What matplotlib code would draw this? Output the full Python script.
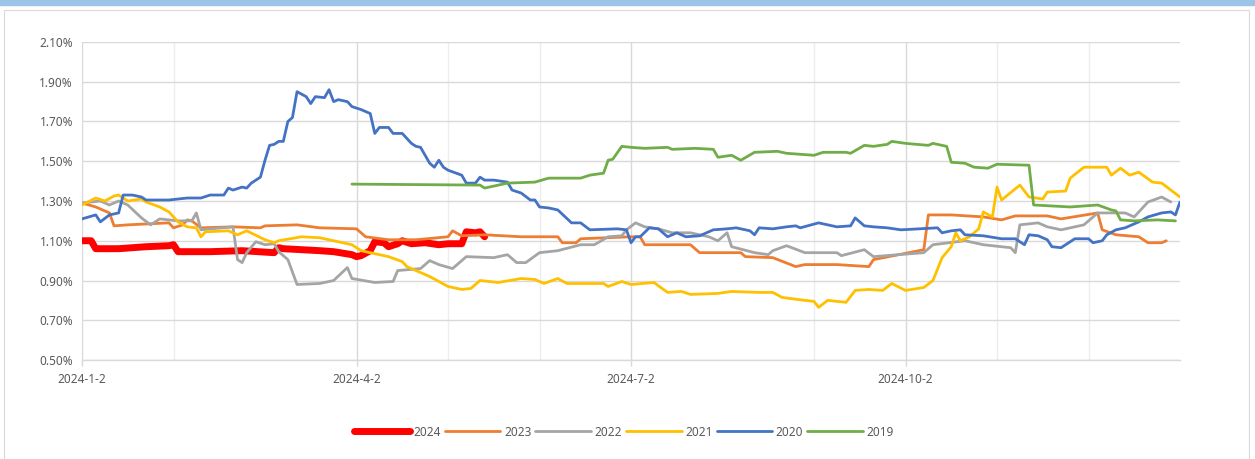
import matplotlib
matplotlib.use("Agg")
import matplotlib.pyplot as plt
from matplotlib.patches import Rectangle
from matplotlib.ticker import FuncFormatter, FixedLocator

# trading-day index (0 = 2024-1-2) and rate values in %
s2024_day = [0, 2, 3, 8, 14, 19, 20, 21, 28, 35, 42, 43, 44, 48, 52, 55, 59, 60, 61, 63, 64,
             66, 67, 69, 70, 72, 75, 78, 80, 83, 84, 86, 87, 88]
s2024_val = [1.10, 1.10, 1.06, 1.06, 1.07, 1.075, 1.08, 1.045, 1.045, 1.05, 1.04, 1.065, 1.06,
             1.055, 1.05, 1.045, 1.03, 1.02, 1.025, 1.05, 1.095, 1.09, 1.07, 1.085, 1.10, 1.085,
             1.09, 1.08, 1.085, 1.085, 1.145, 1.14, 1.145, 1.12]

s2023_day = [0, 3, 6, 7, 10, 19, 20, 22, 23, 24, 26, 33, 39, 40, 47, 52, 60, 62, 67, 73, 80,
             81, 83, 88, 96, 104, 105, 108, 109, 120, 122, 123, 133, 135, 144, 145, 151, 156,
             158, 165, 172, 173, 184, 185, 190, 197, 201, 204, 211, 214, 222, 223, 226, 231,
             233, 236, 237]
s2023_val = [1.29, 1.27, 1.24, 1.175, 1.18, 1.19, 1.165, 1.18, 1.205, 1.20, 1.165, 1.17, 1.165,
             1.175, 1.18, 1.165, 1.16, 1.12, 1.105, 1.105, 1.12, 1.15, 1.125, 1.13, 1.12, 1.12,
             1.09, 1.09, 1.11, 1.12, 1.12, 1.08, 1.08, 1.04, 1.04, 1.02, 1.015, 0.97, 0.98,
             0.98, 0.97, 1.005, 1.055, 1.23, 1.23, 1.22, 1.205, 1.225, 1.225, 1.21, 1.24,
             1.155, 1.13, 1.12, 1.09, 1.09, 1.10]

s2022_day = [0, 4, 6, 8, 10, 13, 15, 17, 21, 24, 25, 26, 33, 34, 35, 36, 38, 40, 42, 43, 45,
             47, 52, 55, 58, 59, 64, 68, 69, 74, 76, 78, 81, 84, 90, 93, 95, 97, 100, 104, 109,
             112, 115, 118, 119, 121, 123, 126, 129, 133, 137, 139, 141, 142, 147, 150, 151,
             154, 158, 165, 166, 171, 173, 184, 186, 193, 197, 203, 204, 205, 209, 211, 214,
             219, 222, 228, 230, 233, 236, 238]
s2022_val = [1.29, 1.30, 1.28, 1.30, 1.28, 1.215, 1.18, 1.21, 1.20, 1.20, 1.24, 1.155, 1.17,
             1.005, 0.99, 1.04, 1.095, 1.08, 1.085, 1.045, 1.005, 0.88, 0.885, 0.90, 0.965,
             0.91, 0.89, 0.895, 0.95, 0.96, 1.00, 0.98, 0.96, 1.02, 1.015, 1.03, 0.99, 0.99,
             1.04, 1.05, 1.08, 1.08, 1.12, 1.125, 1.155, 1.19, 1.17, 1.16, 1.14, 1.14, 1.12,
             1.10, 1.14, 1.07, 1.04, 1.03, 1.05, 1.075, 1.04, 1.04, 1.025, 1.055, 1.02, 1.04,
             1.08, 1.10, 1.08, 1.065, 1.04, 1.18, 1.19, 1.17, 1.155, 1.18, 1.24, 1.24, 1.22,
             1.295, 1.32, 1.295]

s2021_day = [0, 3, 5, 7, 8, 10, 13, 14, 17, 19, 21, 23, 25, 26, 27, 32, 34, 36, 40, 42, 43,
             48, 52, 56, 59, 61, 67, 70, 71, 74, 76, 80, 83, 85, 87, 91, 96, 99, 101, 104, 106,
             114, 115, 118, 120, 125, 128, 131, 133, 139, 142, 148, 151, 153, 158, 160, 161,
             163, 167, 169, 172, 175, 177, 180, 184, 186, 188, 190, 191, 192, 194, 196, 197,
             199, 200, 201, 205, 207, 210, 211, 215, 216, 219, 224, 225, 227, 229, 231, 234,
             236, 238, 240]
s2021_val = [1.28, 1.315, 1.30, 1.325, 1.33, 1.30, 1.31, 1.295, 1.27, 1.245, 1.195, 1.17,
             1.165, 1.12, 1.145, 1.15, 1.13, 1.15, 1.105, 1.09, 1.10, 1.12, 1.115, 1.095, 1.08,
             1.05, 1.02, 0.995, 0.97, 0.94, 0.92, 0.87, 0.855, 0.86, 0.90, 0.89, 0.91, 0.905,
             0.885, 0.91, 0.885, 0.885, 0.87, 0.895, 0.88, 0.89, 0.84, 0.845, 0.83, 0.835,
             0.845, 0.84, 0.84, 0.815, 0.80, 0.795, 0.765, 0.80, 0.79, 0.85, 0.855, 0.85,
             0.885, 0.85, 0.865, 0.90, 1.015, 1.07, 1.14, 1.10, 1.12, 1.16, 1.245, 1.22, 1.37,
             1.305, 1.38, 1.32, 1.31, 1.345, 1.35, 1.415, 1.47, 1.47, 1.43, 1.465, 1.43, 1.445,
             1.395, 1.39, 1.355, 1.32]

s2020_day = [0, 3, 4, 6, 8, 9, 11, 13, 14, 19, 23, 26, 28, 31, 32, 33, 35, 36, 37, 39, 40,
             41, 42, 43, 44, 45, 46, 47, 49, 50, 51, 53, 54, 55, 56, 58, 59, 61, 63, 64, 65,
             67, 68, 70, 72, 73, 74, 75, 76, 77, 78, 79, 80, 83, 84, 86, 87, 88, 90, 93, 94,
             96, 98, 99, 100, 102, 104, 107, 109, 111, 117, 119, 120, 121, 122, 124, 126, 128,
             130, 132, 135, 138, 141, 143, 146, 147, 148, 151, 154, 156, 157, 161, 165, 168,
             169, 171, 173, 176, 179, 187, 188, 190, 192, 193, 197, 201, 204, 206, 207, 209,
             211, 212, 214, 217, 220, 221, 223, 224, 226, 228, 229, 231, 233, 236, 238, 239,
             240]
s2020_val = [1.21, 1.23, 1.195, 1.23, 1.24, 1.33, 1.33, 1.32, 1.305, 1.305, 1.315, 1.315,
             1.33, 1.33, 1.365, 1.355, 1.37, 1.365, 1.39, 1.42, 1.505, 1.58, 1.585, 1.60,
             1.60, 1.70, 1.72, 1.85, 1.825, 1.79, 1.825, 1.82, 1.86, 1.80, 1.81, 1.80, 1.775,
             1.76, 1.74, 1.64, 1.67, 1.67, 1.64, 1.64, 1.59, 1.575, 1.57, 1.53, 1.49, 1.47,
             1.505, 1.47, 1.455, 1.43, 1.39, 1.39, 1.42, 1.405, 1.405, 1.395, 1.355, 1.34,
             1.305, 1.305, 1.27, 1.265, 1.255, 1.19, 1.19, 1.155, 1.16, 1.155, 1.09, 1.12,
             1.12, 1.165, 1.16, 1.12, 1.14, 1.12, 1.125, 1.155, 1.16, 1.165, 1.15, 1.13,
             1.165, 1.16, 1.17, 1.175, 1.165, 1.19, 1.17, 1.175, 1.215, 1.175, 1.17, 1.165,
             1.155, 1.165, 1.14, 1.15, 1.155, 1.13, 1.125, 1.11, 1.11, 1.08, 1.13, 1.125,
             1.105, 1.07, 1.065, 1.11, 1.11, 1.09, 1.10, 1.13, 1.155, 1.165, 1.175, 1.195,
             1.22, 1.24, 1.245, 1.23, 1.295]

s2019_day = [59, 87, 88, 93, 99, 102, 109, 111, 114, 115, 116, 118, 120, 123, 128, 129, 134,
             138, 139, 142, 144, 147, 152, 154, 160, 162, 167, 168, 171, 173, 176, 177, 180,
             185, 186, 189, 190, 193, 195, 198, 200, 207, 208, 212, 216, 222, 225, 226, 227,
             230, 235, 239]
s2019_val = [1.385, 1.38, 1.365, 1.39, 1.395, 1.415, 1.415, 1.43, 1.44, 1.505, 1.51, 1.575,
             1.57, 1.565, 1.57, 1.56, 1.565, 1.56, 1.52, 1.53, 1.505, 1.545, 1.55, 1.54, 1.53,
             1.545, 1.545, 1.54, 1.58, 1.575, 1.585, 1.60, 1.59, 1.58, 1.59, 1.575, 1.495,
             1.49, 1.47, 1.465, 1.485, 1.48, 1.28, 1.275, 1.27, 1.28, 1.255, 1.25, 1.205,
             1.20, 1.205, 1.20]

x_tick_pos = [0, 60, 120, 180]
x_tick_labels = ["2024-1-2", "2024-4-2", "2024-7-2", "2024-10-2"]

series = [
    ("2024", s2024_day, s2024_val, "#FF0000", 5.0),
    ("2023", s2023_day, s2023_val, "#ED7D31", 2.0),
    ("2022", s2022_day, s2022_val, "#A5A5A5", 2.0),
    ("2021", s2021_day, s2021_val, "#FFC000", 2.0),
    ("2020", s2020_day, s2020_val, "#4472C4", 2.0),
    ("2019", s2019_day, s2019_val, "#70AD47", 2.0),
]

plt.rcParams["font.family"] = ["Noto Sans", "DejaVu Sans"]
W, H = 1255, 459
fig = plt.figure(figsize=(W / 100, H / 100), dpi=100)

# top blue strip and chart area border
fig.patches.append(Rectangle((0, 1 - 5 / H), 1, 5 / H, transform=fig.transFigure,
                             color="#9DC3E6", zorder=-2))
fig.patches.append(Rectangle((4 / W, -0.05), 1245 / W, 1 - 10 / H + 0.05,
                             transform=fig.transFigure, facecolor="white",
                             edgecolor="#D9D9D9", lw=0.8, zorder=-2))

ax = fig.add_axes([82 / W, 1 - 360 / H, 1098 / W, 318 / H])
ax.set_facecolor("none")
ax.set_zorder(2)

for name, d, v, c, lw in series:
    ax.plot(d, v, color=c, lw=lw, label=name, solid_capstyle="round",
            solid_joinstyle="round")

ax.set_xlim(0, 240)
ax.set_ylim(0.5, 2.1)
ax.set_yticks([0.5 + 0.2 * k for k in range(9)])
ax.yaxis.set_major_formatter(FuncFormatter(lambda y, p: f"{y:.2f}%"))
ax.set_xticks(x_tick_pos)
ax.set_xticklabels(x_tick_labels)
ax.xaxis.set_minor_locator(FixedLocator([20, 80, 100, 160, 200, 220]))

ax.grid(axis="y", color="#D9D9D9", lw=1.0)
ax.grid(axis="x", which="major", color="#D9D9D9", lw=1.0)
ax.grid(axis="x", which="minor", color="#EDEDED", lw=1.0)
ax.set_axisbelow(True)

for s in ["top", "right", "left"]:
    ax.spines[s].set_visible(False)
ax.spines["bottom"].set_color("#D9D9D9")
ax.spines["bottom"].set_linewidth(1.0)

ax.tick_params(axis="y", length=0, pad=6.5, labelsize=8.5, labelcolor="#595959")
ax.tick_params(axis="x", which="major", length=4, width=1.0, color="#D9D9D9",
               pad=5.5, labelsize=8.5, labelcolor="#595959")
ax.tick_params(axis="x", which="minor", length=0)

fig.legend(loc="center", bbox_to_anchor=(624 / W, 1 - 432 / H), ncol=6, frameon=False,
           fontsize=8.5, labelcolor="#595959", handlelength=4.7, handletextpad=0.3,
           columnspacing=0.35)

fig.savefig("out.png", dpi=100)
